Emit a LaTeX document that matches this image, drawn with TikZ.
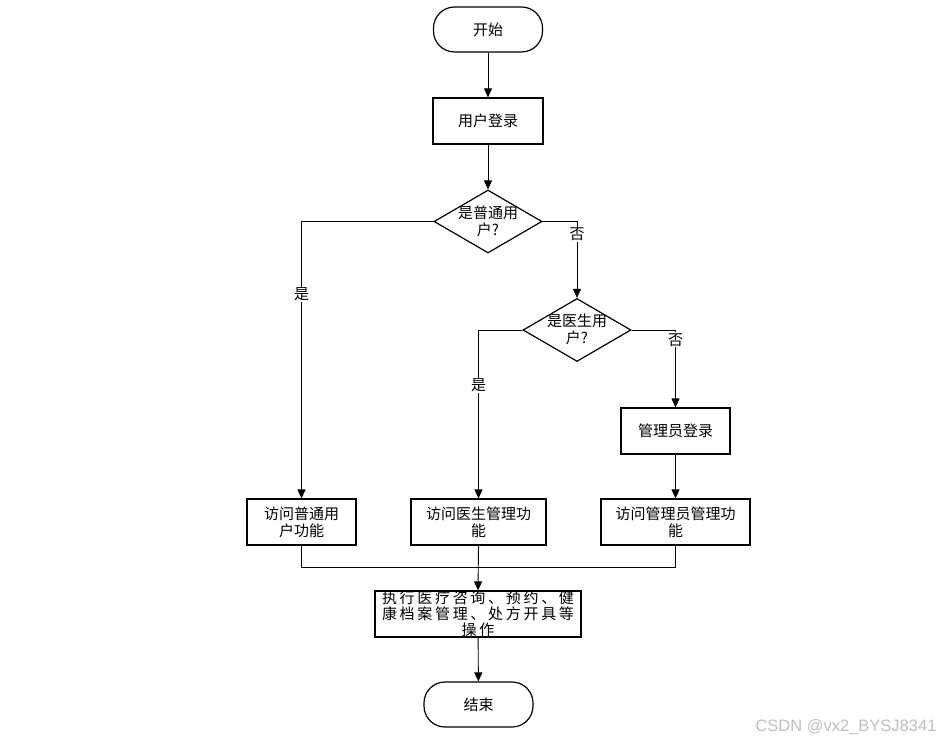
\documentclass[tikz,border=0pt]{standalone}
\usepackage{fontspec}
\newfontfamily\cjk{Noto Sans CJK SC}
\newfontfamily\cjkw[LetterSpace=18]{Noto Sans CJK SC}
\setmainfont{Liberation Sans}
\usetikzlibrary{shapes.geometric,arrows.meta}
\begin{document}
\begin{tikzpicture}[x=1pt,y=-1pt,
  every node/.style={font=\cjk\fontsize{15pt}{17pt}\selectfont},
  term/.style={draw,line width=1.2pt,rounded corners=21pt,minimum width=109pt,minimum height=45pt,inner sep=0pt},
  proc/.style={draw,line width=1.2pt,minimum height=46pt,inner sep=0pt,align=center},
  dia/.style={draw,line width=1.2pt,diamond,minimum width=108pt,minimum height=63pt,inner sep=0pt},
  lbl/.style={align=center,inner sep=0pt},
  conn/.style={line width=0.9pt},
  arr/.style={conn,-{Triangle[length=9pt,width=8pt]}},
  edgelbl/.style={fill=white,inner sep=1pt}]
\useasboundingbox[fill=white] (0,0) rectangle (944,743);

\node[term] (start) at (488,29.5) {开始};
\node[proc,minimum width=110pt] (login) at (488,121) {用户登录};
\node[dia] (d1) at (488,221.5) {};
\node[lbl] at (488,221) {是普通用\\户?};
\node[dia] (d2) at (577,330) {};
\node[lbl] at (577,329.5) {是医生用\\户?};
\node[proc,minimum width=109pt] (admin) at (675.5,431) {管理员登录};
\node[proc,minimum width=109pt] (b1) at (301.5,522) {访问普通用\\户功能};
\node[proc,minimum width=135pt] (b2) at (478.5,522) {访问医生管理功\\能};
\node[proc,minimum width=149pt] (b3) at (675.5,522) {访问管理员管理功\\能};
\node[proc,minimum width=206pt] (b4) at (478,614) {};
\node[lbl,font=\cjkw\fontsize{15pt}{16pt}\selectfont] at (478,613.5) {执行医疗咨询、预约、健\\康档案管理、处方开具等\\操作};
\node[term] (end) at (478.5,704.5) {结束};

\coordinate (m) at (478.5,567);

\draw[arr] (start) -- (login);
\draw[arr] (login) -- (d1);
\draw[arr] (d1.west) -| node[edgelbl,pos=0.632]{是} (b1.north);
\draw[arr] (d1.east) -| node[edgelbl,pos=0.585]{否} (d2.north);
\draw[arr] (d2.west) -| node[edgelbl,pos=0.664]{是} (b2.north);
\draw[arr] (d2.east) -| node[edgelbl,pos=0.564]{否} (admin.north);
\draw[arr] (admin) -- (b3);
\draw[conn] (b1.south) |- (m);
\draw[conn] (b3.south) |- (m);
\draw[arr] (b2.south) -- (b4.north);
\draw[arr] (b4) -- (end);

\node[font=\fontsize{16.5pt}{18pt}\selectfont,text=black!25,anchor=east] (wm) at (940,727) {CSDN @vx2\_BYSJ8341};
\end{tikzpicture}
\end{document}
